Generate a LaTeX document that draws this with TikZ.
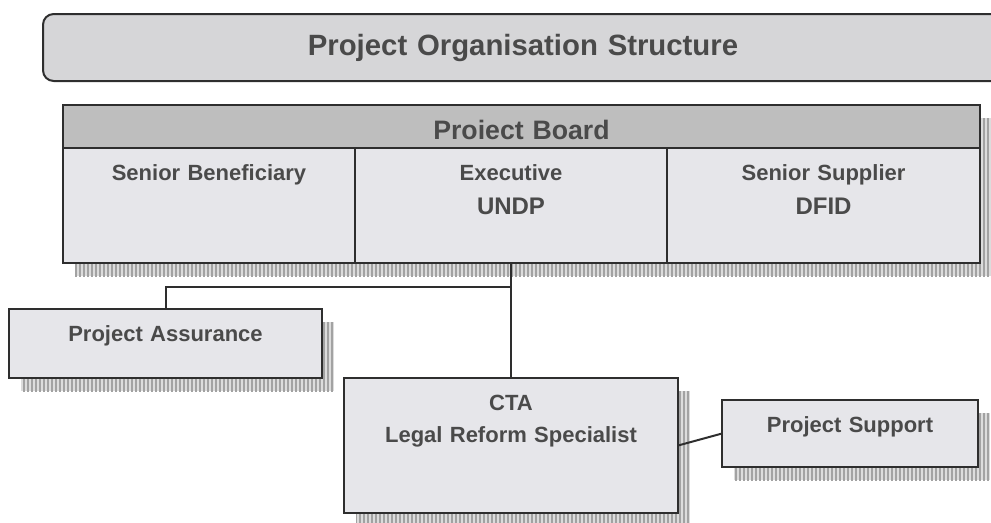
\documentclass[tikz,border=0pt]{standalone}
\usepackage{fontspec}
\setmainfont{Liberation Sans}
\usetikzlibrary{positioning, shadows, patterns.meta}

\definecolor{boxgrey}{HTML}{E6E6EA}
\definecolor{headgrey}{HTML}{BEBEBE}
\definecolor{titlegrey}{HTML}{D6D6D8}
\definecolor{inkgrey}{HTML}{4A4A4A}
\definecolor{edgegrey}{HTML}{2E2E2E}
\definecolor{shadelight}{HTML}{DCDCDC}
\definecolor{shadedark}{HTML}{A2A2A2}

\tikzset{
  hatched shadow/.style={
    drop shadow={shadow xshift=9pt, shadow yshift=-9.75pt, opacity=1, fill=shadelight},
    drop shadow={shadow xshift=9pt, shadow yshift=-9.75pt, opacity=1,
      pattern={Lines[angle=90, distance=3pt, line width=1.1pt]}, pattern color=shadedark}
  },
  box/.style={
    rectangle,
    draw=edgegrey,
    line width=1.5pt,
    fill=boxgrey,
    inner sep=0pt,
    outer sep=0pt,
    align=center,
    text=inkgrey,
    font=\fontsize{16.5}{24}\selectfont\bfseries,
    text height=24pt,
    hatched shadow
  },
  cell/.style={
    box,
    font=\fontsize{16.5}{26}\selectfont\bfseries,
    text depth=62.25pt
  },
  boardhead/.style={
    box,
    fill=headgrey,
    font=\fontsize{20}{24}\selectfont\bfseries,
    text height=25.5pt,
    text depth=6.75pt
  },
  titlebox/.style={
    rectangle,
    rounded corners=8pt,
    draw=edgegrey,
    line width=1.5pt,
    fill=titlegrey,
    inner sep=0pt,
    align=center,
    text=inkgrey,
    font=\fontsize{22}{26}\selectfont\bfseries,
    text height=30.75pt,
    text depth=19.5pt
  },
  link/.style={
    draw=edgegrey,
    line width=1.5pt
  }
}

\begin{document}
\begin{tikzpicture}[x=0.75pt, y=-0.75pt]
  \useasboundingbox (0,0) rectangle (991,522);

  \node [titlebox, text width=720pt, anchor=north west] (title) at (42,13) {Project Organisation Structure};

  % board with its three members
  \node [boardhead, text width=687.75pt, anchor=north west] (board) at (63,105) {Proiect Board};
  \node [cell, text width=219pt, below right=0pt and 0pt of board.south west] (beneficiary) {Senior Beneficiary};
  \node [cell, text width=234pt, right=0pt of beneficiary] (executive) {Executive\\{\fontsize{18}{26}\selectfont UNDP}};
  \node [cell, text width=234.75pt, right=0pt of executive] (supplier) {Senior Supplier\\{\fontsize{18}{26}\selectfont DFID}};

  \node [box, text width=234.75pt, text depth=27.75pt, anchor=north west] (assurance) at (9,309) {Project Assurance};
  \node [box, text width=250.5pt, text depth=77.25pt, below=86.25pt of executive] (cta) {CTA\\Legal Reform Specialist};
  \node [box, text width=192pt, text depth=26.25pt, right=33pt of cta, yshift=9pt] (support) {Project Support};

  \coordinate (split) at ([yshift=-18pt]executive.south);

  \draw [link] (executive) -- (cta);
  \draw [link] (split) -| (assurance);
  \draw [link] (cta.east) -- (support.west);
\end{tikzpicture}
\end{document}
